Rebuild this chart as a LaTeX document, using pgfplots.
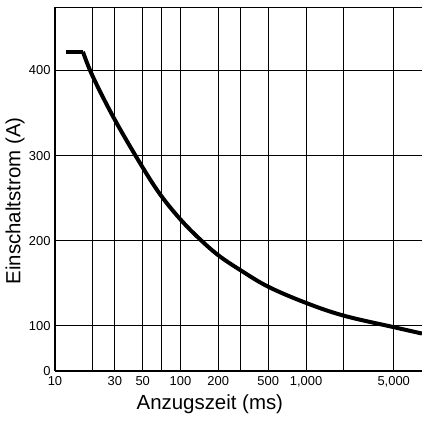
\documentclass[border=0pt]{standalone}
\usepackage{pgfplots}
\pgfplotsset{compat=1.18}
\usepackage{fontspec}
\setmainfont{Liberation Sans}

\begin{document}
\begin{tikzpicture}
\begin{axis}[
  name=ax,
  scale only axis,
  width=367bp, height=363.5bp,
  xmode=log,
  xmin=10, xmax=8400,
  ymin=47, ymax=474,
  axis x line*=box,
  axis y line*=left,
  axis line style={black, line width=1.4pt},
  xtick={10,30,50,100,200,500,1000,5000},
  xticklabels={10,30,50,100,200,500,{1,000},{5,000}},
  minor xtick={20,70,300,2000},
  ytick={47,100,200,300,400},
  yticklabels={0,100,200,300,400},
  major tick length=0pt, minor tick length=0pt,
  xmajorgrids, xminorgrids, ymajorgrids,
  grid style={black, line width=0.9pt},
  minor grid style={black, line width=0.9pt},
  /pgf/number format/assume math mode=true,
  ticklabel style={font=\fontsize{13}{15}\selectfont},
  xticklabel style={yshift=-2bp},
  yticklabel style={xshift=-1bp},
  xlabel={Anzugszeit (ms)},
  ylabel={Einschaltstrom (A)},
  label style={font=\fontsize{20.5}{22}\selectfont},
  xlabel style={at={(axis description cs:0.422,0)}, anchor=north, yshift=-20bp},
  ylabel style={at={(axis description cs:0,0.468)}, anchor=south, yshift=27bp},
]
\addplot[black, line width=4bp, line cap=butt] coordinates {(12.3,422) (16.7,422)};
\addplot[black, line width=4bp, smooth, tension=0.6, line join=round] coordinates {
  (16.7,422) (20,393) (30,342) (50,286) (70,253) (100,225) (140,203)
  (200,183) (300,165.5) (500,146) (1000,127) (2000,112) (5000,98.5) (8400,91)
};
\end{axis}
\pgfresetboundingbox
\path[use as bounding box] ([xshift=-55bp,yshift=-50bp]ax.south west) rectangle ([yshift=7.5bp]ax.north east);
\end{tikzpicture}
\end{document}
